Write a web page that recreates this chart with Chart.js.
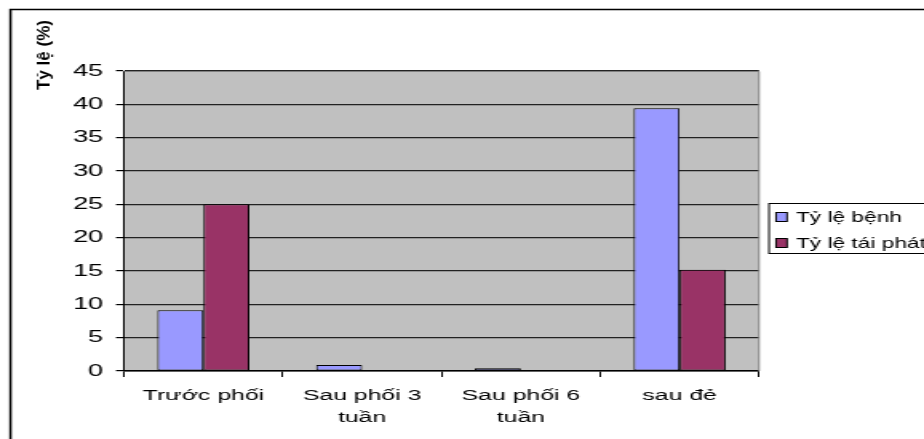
<!DOCTYPE html>
<html>
<head>
<meta charset="utf-8">
<script src="https://cdn.jsdelivr.net/npm/chart.js@4"></script>
<style>
  html, body { margin: 0; padding: 0; background: #fff; overflow: hidden; }
  canvas { display: block; }
</style>
</head>
<body>
<canvas id="chart" width="578" height="439" style="width:924px;height:439px"></canvas>
<script>
// Data
const categories = [['Trước phối'], ['Sau phối 3', 'tuần'], ['Sau phối 6', 'tuần'], ['sau đẻ']];
const seriesNames = ['Tỷ lệ bệnh', 'Tỷ lệ tái phát'];
const tyLeBenh = [9.1, 0.9, 0.4, 39.4];
const tyLeTaiPhat = [25, 0, 0, 15.2];
const yTicks = [0, 5, 10, 15, 20, 25, 30, 35, 40, 45];
const axisTitle = 'Tỷ lệ (%)';

// The canvas is laid out narrow and widened by CSS, giving the wide lettering.
const SX = 924 / 578;
const FONT = "'Liberation Sans', Arial, sans-serif";
Chart.defaults.font.family = FONT;
Chart.defaults.color = '#000';

const frame = {
  id: 'frame',
  beforeDraw(chart) {
    const { ctx, chartArea: a, width, height } = chart;
    ctx.save();
    ctx.fillStyle = '#fff';
    ctx.fillRect(0, 0, width, height);
    ctx.fillStyle = '#c0c0c0';
    ctx.fillRect(a.left, a.top, a.right - a.left, a.bottom - a.top);
    ctx.strokeStyle = '#000';
    ctx.lineWidth = 1.5;
    ctx.strokeRect(10.5 / SX, 9.5, width, height);
    ctx.restore();
  },
  afterDraw(chart) {
    const { ctx, chartArea: a, width } = chart;
    ctx.save();
    // plot area edge
    ctx.strokeStyle = '#808080';
    ctx.lineWidth = 1;
    ctx.beginPath();
    ctx.moveTo(a.left, a.top + 0.5);
    ctx.lineTo(a.right, a.top + 0.5);
    ctx.lineTo(a.right, a.bottom);
    ctx.stroke();

    // legend
    const lx = 769 / SX;
    ctx.fillStyle = '#fff';
    ctx.fillRect(lx, 203.5, width, 50);
    ctx.strokeStyle = '#000';
    ctx.strokeRect(lx, 203.5, width, 50);
    ctx.font = '14.2px ' + FONT;
    ctx.textBaseline = 'middle';
    ctx.textAlign = 'left';
    chart.data.datasets.forEach((ds, i) => {
      const cy = 217 + i * 26;
      ctx.fillStyle = ds.backgroundColor;
      ctx.fillRect(776 / SX, cy - 4.5, 11 / SX, 9);
      ctx.strokeStyle = '#000';
      ctx.strokeRect(776 / SX, cy - 4.5, 11 / SX, 9);
      ctx.fillStyle = '#000';
      ctx.fillText(ds.label, 796 / SX, cy + 1);
    });

    // y axis title, kept at normal proportions
    ctx.translate(45 / SX, 55);
    ctx.scale(1 / SX, 1);
    ctx.rotate(-Math.PI / 2);
    ctx.font = 'bold 17px ' + FONT;
    ctx.textAlign = 'center';
    ctx.textBaseline = 'middle';
    ctx.fillText(axisTitle, 0, 0);
    ctx.restore();
  }
};

new Chart(document.getElementById('chart'), {
  type: 'bar',
  data: {
    labels: categories,
    datasets: [
      { label: seriesNames[0], data: tyLeBenh, backgroundColor: '#9999ff', borderColor: '#000', borderWidth: 1, borderSkipped: false },
      { label: seriesNames[1], data: tyLeTaiPhat, backgroundColor: '#993366', borderColor: '#000', borderWidth: 1, borderSkipped: false }
    ]
  },
  options: {
    responsive: false,
    animation: false,
    events: [],
    layout: { padding: { top: 71, right: 578 - 759 / SX, bottom: 0, left: 0 } },
    datasets: { bar: { categoryPercentage: 0.58, barPercentage: 1.0 } },
    plugins: { legend: { display: false }, tooltip: { enabled: false }, title: { display: false } },
    scales: {
      x: {
        afterFit: s => { s.height = 68; },
        grid: { drawOnChartArea: false, drawTicks: true, tickLength: 6, tickColor: '#000', offset: true },
        border: { display: true, color: '#000', width: 1.5 },
        ticks: { font: { size: 15.5, lineHeight: 1.4 }, padding: 8, maxRotation: 0, autoSkip: false }
      },
      y: {
        min: 0,
        max: 45,
        afterFit: s => { s.width = 124 / SX; },
        afterBuildTicks: s => { s.ticks = yTicks.map(v => ({ value: v })); },
        grid: { color: '#222', lineWidth: 1.2, drawTicks: true, tickLength: 5, tickColor: '#000' },
        border: { display: true, color: '#000', width: 1 },
        ticks: { font: { size: 17 }, padding: 8 }
      }
    }
  },
  plugins: [frame]
});
</script>
</body>
</html>
